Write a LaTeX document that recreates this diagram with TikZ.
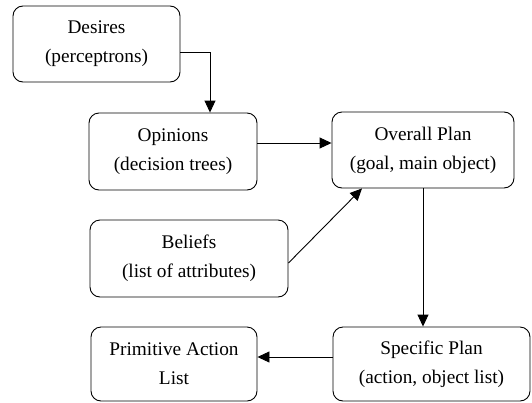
\documentclass[tikz,border=0pt]{standalone}
\usepackage{fontspec}
\setmainfont{Liberation Serif}
\usetikzlibrary{arrows.meta,calc}
\begin{document}
\begin{tikzpicture}[x=1pt,y=-1pt,
  box/.style={draw,line width=0.9pt,rounded corners=10pt,align=center,
    font=\fontsize{19.3}{29}\selectfont,inner sep=0pt,
    execute at begin node={\rule{0pt}{20pt}}},
  conn/.style={line width=0.9pt,-{Triangle[length=12pt,width=11pt]}}]
\useasboundingbox (0,0) rectangle (532,402);
\node[box,minimum width=167pt,minimum height=76pt] (des) at (96.5,44) {Desires\\(perceptrons)};
\node[box,minimum width=168pt,minimum height=77pt] (opi) at (173,151.5) {Opinions\\(decision trees)};
\node[box,minimum width=182pt,minimum height=76pt] (ove) at (423,150) {Overall Plan\\(goal, main object)};
\node[box,minimum width=198pt,minimum height=77pt] (bel) at (189,258.5) {Beliefs\\(list of attributes)};
\node[box,minimum width=166pt,minimum height=74pt] (pri) at (174,364) {Primitive Action\\List};
\node[box,minimum width=197pt,minimum height=74pt] (spe) at (431.5,364) {Specific Plan\\(action, object list)};
\coordinate (a1) at ($(des.east)+(0,8)$);
\coordinate (a2) at ($(opi.north)+(37,0)$);
\coordinate (b1) at ($(opi.east)+(0,-8.5)$);
\coordinate (b2) at (b1 -| ove.west);
\coordinate (c1) at ($(bel.east)+(0,4.5)$);
\coordinate (c2) at ($(ove.south)+(-61,0)$);
\coordinate (d2) at (ove.south |- spe.north);
\coordinate (e1) at ($(spe.west)+(0,-7)$);
\coordinate (e2) at (e1 -| pri.east);
\draw[conn] (a1) -| (a2);
\draw[conn] (b1) -- (b2);
\draw[conn] (c1) -- (c2);
\draw[conn] (ove.south) -- (d2);
\draw[conn] (e1) -- (e2);
\end{tikzpicture}
\end{document}
